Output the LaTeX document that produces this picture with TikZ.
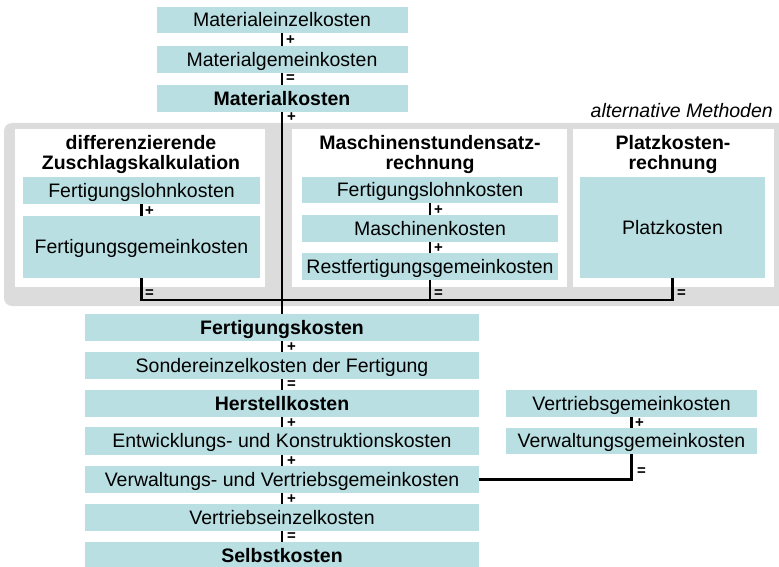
\documentclass[tikz,border=0pt]{standalone}
\usepackage{fontspec}
\setmainfont{Liberation Sans}
\definecolor{boxfill}{HTML}{B9DFE2}
\definecolor{panelgray}{HTML}{DCDCDC}
\begin{document}
\begin{tikzpicture}[x=1pt,y=-1pt,
  kbox/.style={fill=boxfill, inner sep=0pt, text height=13.5pt, text depth=0pt,
    font=\fontsize{19.5}{20}\selectfont},
  kbold/.style={kbox, font=\fontsize{19.5}{20}\selectfont\bfseries},
  ttl/.style={font=\fontsize{19.5}{20}\selectfont\bfseries, align=center, inner sep=0pt},
  op/.style={font=\fontsize{15}{15}\selectfont\bfseries, anchor=west, inner sep=0pt},
  conn/.style={line width=2.2pt, black}]
\clip (0,0) rectangle (779,567);
% panels
\fill[panelgray, rounded corners=8pt] (4,123) rectangle (800,306);
\fill[white] (15,129) rectangle (265,287);
\fill[white] (292,129) rectangle (567,287);
\fill[white] (573,129) rectangle (774,287);
\node[font=\fontsize{19.5}{20}\selectfont\itshape, anchor=base east, inner sep=0pt] (alt) at (773,118) {alternative Methoden};
% top column
\node[kbox, minimum width=251pt, minimum height=26pt] (me) at (282,20) {Materialeinzelkosten};
\node[kbox, minimum width=251pt, minimum height=27pt] (mg) at (282,59.5) {Materialgemeinkosten};
\node[kbold, minimum width=251pt, minimum height=27pt] (mk) at (282,98.5) {Materialkosten};
% panel titles
\node[ttl] (t1) at (141,155) {differenzierende\\Zuschlagskalkulation};
\node[ttl] (t2) at (430,155) {Maschinenstundensatz-\\rechnung};
\node[ttl] (t3) at (673,155) {Platzkosten-\\rechnung};
% panel 1
\node[kbox, minimum width=237pt, minimum height=27pt] (fl1) at (141.5,190.5) {Fertigungslohnkosten};
\node[kbox, minimum width=237pt, minimum height=62pt] (fg1) at (141.5,247) {Fertigungsgemeinkosten};
% panel 2
\node[kbox, minimum width=256pt, minimum height=26pt] (fl2) at (430,190) {Fertigungslohnkosten};
\node[kbox, minimum width=256pt, minimum height=27pt] (mak) at (430,228.5) {Maschinenkosten};
\node[kbox, minimum width=256pt, minimum height=27pt] (rf) at (430,266.5) {Restfertigungsgemeinkosten};
% panel 3
\node[kbox, minimum width=185pt, minimum height=101pt] (pk) at (672.5,227.5) {Platzkosten};
% lower column
\node[kbold, minimum width=394pt, minimum height=27pt] (fk) at (282,327.5) {Fertigungskosten};
\node[kbox, minimum width=394pt, minimum height=27pt] (sf) at (282,365.5) {Sondereinzelkosten der Fertigung};
\node[kbold, minimum width=394pt, minimum height=27pt] (hk) at (282,403.5) {Herstellkosten};
\node[kbox, minimum width=394pt, minimum height=28pt] (ek) at (282,441) {Entwicklungs- und Konstruktionskosten};
\node[kbox, minimum width=394pt, minimum height=27pt] (vv) at (282,479.5) {Verwaltungs- und Vertriebsgemeinkosten};
\node[kbox, minimum width=394pt, minimum height=27pt] (ve) at (282,517.5) {Vertriebseinzelkosten};
\node[kbold, minimum width=394pt, minimum height=27pt] (sk) at (282,555.5) {Selbstkosten};
% right column
\node[kbox, minimum width=251pt, minimum height=27pt] (vg) at (631.5,403.5) {Vertriebsgemeinkosten};
\node[kbox, minimum width=251pt, minimum height=26pt] (vwg) at (631.5,441) {Verwaltungsgemeinkosten};
% connectors
\coordinate (j) at (282,300);
\coordinate (jr) at (631.5,479.5);
\draw[conn] (me) -- (mg);
\draw[conn] (mg) -- (mk);
\draw[conn] (mk) -- (fk);
\draw[conn] (fl1) -- (fg1);
\draw[conn] (fg1.south) |- (pk.south |- j) -- (pk.south);
\draw[conn] (fl2) -- (mak);
\draw[conn] (mak) -- (rf);
\draw[conn] (rf.south) -- (rf.south |- j);
\draw[conn] (fk) -- (sf);
\draw[conn] (sf) -- (hk);
\draw[conn] (hk) -- (ek);
\draw[conn] (ek) -- (vv);
\draw[conn] (vv) -- (ve);
\draw[conn] (ve) -- (sk);
\draw[conn] (vg) -- (vwg);
\draw[conn] (vwg.south) -- (jr) -- (vv.east);
% operators
\node[op] (o1) at (286,40) {+};
\node[op] (o2) at (286,79) {=};
\node[op] (o3) at (287,117.5) {+};
\node[op] (o4) at (145,211) {+};
\node[op] (o5) at (434,210) {+};
\node[op] (o6) at (434,248) {+};
\node[op] (o7) at (145,294) {=};
\node[op] (o8) at (434,294) {=};
\node[op] (o9) at (677,294) {=};
\node[op] (o10) at (287,347) {+};
\node[op] (o11) at (287,385) {=};
\node[op] (o12) at (287,423) {+};
\node[op] (o13) at (287,461) {+};
\node[op] (o14) at (287,499) {+};
\node[op] (o15) at (287,537) {=};
\node[op] (o16) at (635,423) {+};
\node[op] (o17) at (637,472) {=};
\end{tikzpicture}
\end{document}
